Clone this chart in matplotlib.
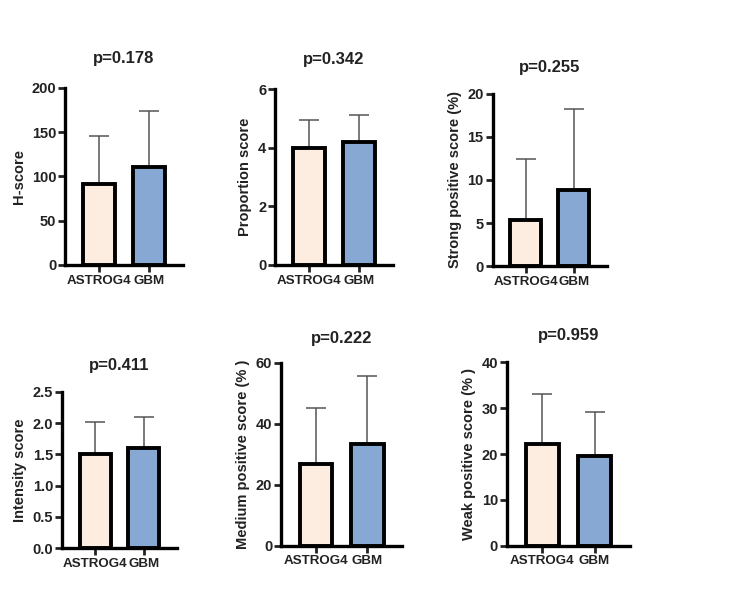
import matplotlib
matplotlib.use("Agg")
import matplotlib.pyplot as plt

plt.rcParams['font.family'] = ['Liberation Sans', 'DejaVu Sans']
plt.rcParams['font.weight'] = 'bold'

groups = ['ASTROG4', 'GBM']
colors = ['#FCEDE0', '#87A8D3']

titles = ['p=0.178', 'p=0.342', 'p=0.255', 'p=0.411', 'p=0.222', 'p=0.959']
ylabels = ['H-score', 'Proportion score', 'Strong positive score (%)',
           'Intensity score', 'Medium positive score (% )', 'Weak positive score (% )']

# means and SD (upper error only)
hscore = [91, 111]
hscore_sd = [55, 63]
proportion = [4.0, 4.2]
proportion_sd = [0.93, 0.9]
strong = [5.3, 8.8]
strong_sd = [7.1, 9.4]
intensity = [1.5, 1.6]
intensity_sd = [0.51, 0.5]
medium = [26.7, 33.3]
medium_sd = [18.5, 22.5]
weak = [22.1, 19.5]
weak_sd = [10.9, 9.7]

means = [hscore, proportion, strong, intensity, medium, weak]
sds = [hscore_sd, proportion_sd, strong_sd, intensity_sd, medium_sd, weak_sd]

yticks = [[0, 50, 100, 150, 200], [0, 2, 4, 6], [0, 5, 10, 15, 20],
          [0.0, 0.5, 1.0, 1.5, 2.0, 2.5], [0, 20, 40, 60], [0, 10, 20, 30, 40]]
yfmt = ['{:.0f}', '{:.0f}', '{:.0f}', '{:.1f}', '{:.0f}', '{:.0f}']

# axes boxes [left, bottom, width, height]
boxes = [[0.087, 0.551, 0.157, 0.300],
         [0.367, 0.551, 0.157, 0.298],
         [0.657, 0.549, 0.152, 0.292],
         [0.083, 0.071, 0.153, 0.265],
         [0.375, 0.075, 0.161, 0.310],
         [0.676, 0.075, 0.164, 0.311]]
title_pad = [18, 18, 16, 16, 14, 16]

fig = plt.figure(figsize=(7.5, 5.9), dpi=100)

for i in range(6):
    ax = fig.add_axes(boxes[i])
    x = [0, 1]
    ax.errorbar(x, means[i], yerr=[[0, 0], sds[i]], fmt='none', ecolor='#555555',
                elinewidth=1.1, capsize=7, capthick=1.1, zorder=1)
    ax.bar(x, means[i], width=0.64, color=colors, edgecolor='black', linewidth=2.8, zorder=2)
    ax.set_xlim(-0.68, 1.68)
    ax.set_ylim(yticks[i][0], yticks[i][-1])
    ax.set_yticks(yticks[i])
    ax.set_yticklabels([yfmt[i].format(v) for v in yticks[i]])
    ax.set_xticks(x)
    ax.set_xticklabels(groups)
    ax.spines['top'].set_visible(False)
    ax.spines['right'].set_visible(False)
    ax.spines['left'].set_linewidth(2.4)
    ax.spines['bottom'].set_linewidth(2.4)
    ax.tick_params(axis='y', width=2, length=5, labelsize=10.5, pad=1.5, colors='#222222')
    ax.tick_params(axis='x', width=2, length=5, labelsize=9.6, pad=2, colors='#222222')
    ax.set_ylabel(ylabels[i], fontsize=10.5, fontweight='bold', labelpad=4, color='#222222')
    ax.set_title(titles[i], fontsize=12, fontweight='bold', pad=title_pad[i], color='#222222')
    for b in ax.patches:
        b.set_clip_on(False)

fig.savefig('out.png', dpi=100, facecolor='white')
